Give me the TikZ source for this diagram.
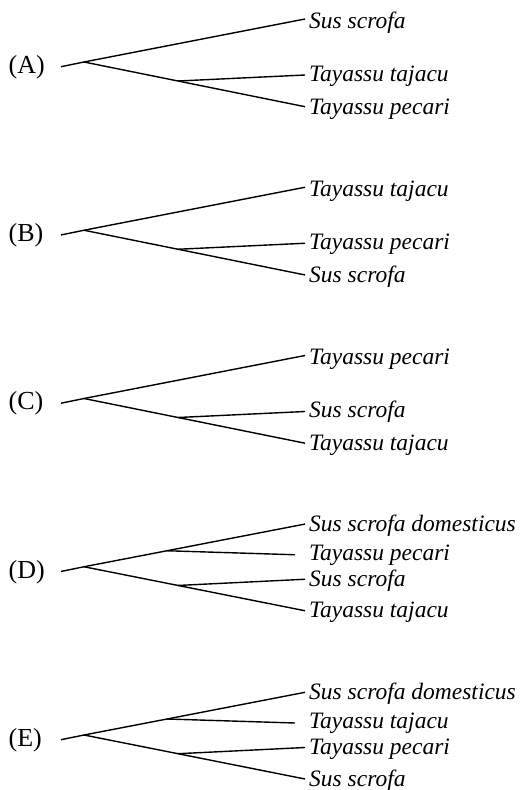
\documentclass[tikz,border=0pt]{standalone}
\usepackage{fontspec}
\setmainfont{Liberation Serif}

\tikzset{
  branch/.style={line width=1.4pt, line join=round},
  taxon/.style={anchor=base west, inner sep=0pt, font=\fontsize{23.5}{28}\selectfont\itshape},
  choice/.style={anchor=base west, inner sep=0pt, font=\fontsize{26}{30}\selectfont},
}

% Three-taxon tree: #1 name prefix, #2 root depth, #3 choice letter, #4-#6 taxa (top to bottom)
\newcommand\treethree[6]{%
  \begin{scope}[shift={(0,#2)}]
    \node[choice] (#1-lab) at (8.5,11.3) {(#3)};
    \coordinate (#1-stem) at (61,4.7);
    \coordinate (#1-root) at (84,0);
    \coordinate (#1-in) at (178,19);
    \coordinate (#1-e1) at (305,-43);
    \coordinate (#1-e2) at (305,13);
    \coordinate (#1-e3) at (305,44.7);
    \node[taxon] (#1-t1) at (309,-33.7) {#4};
    \node[taxon] (#1-t2) at (309,19) {#5};
    \node[taxon] (#1-t3) at (309,52) {#6};
    \draw[branch] (#1-stem) -- (#1-root) -- (#1-e1);
    \draw[branch] (#1-root) -- (#1-in) -- (#1-e3);
    \draw[branch] (#1-in) -- (#1-e2);
  \end{scope}}

% Four-taxon tree: #1 name prefix, #2 root depth, #3 choice letter, #4-#7 taxa (top to bottom)
\newcommand\treefour[7]{%
  \begin{scope}[shift={(0,#2)}]
    \node[choice] (#1-lab) at (8.5,11.3) {(#3)};
    \coordinate (#1-stem) at (61,4.7);
    \coordinate (#1-root) at (84,0);
    \coordinate (#1-up) at (167,-16);
    \coordinate (#1-lo) at (178,18.7);
    \coordinate (#1-e1) at (305,-42.7);
    \coordinate (#1-e2) at (295,-12);
    \coordinate (#1-e3) at (305,12.5);
    \coordinate (#1-e4) at (305,44);
    \node[taxon] (#1-t1) at (309,-35.7) {#4};
    \node[taxon] (#1-t2) at (309,-6.7) {#5};
    \node[taxon] (#1-t3) at (309,19.3) {#6};
    \node[taxon] (#1-t4) at (309,51) {#7};
    \draw[branch] (#1-stem) -- (#1-root) -- (#1-up) -- (#1-e1);
    \draw[branch] (#1-up) -- (#1-e2);
    \draw[branch] (#1-root) -- (#1-lo) -- (#1-e4);
    \draw[branch] (#1-lo) -- (#1-e3);
  \end{scope}}

\begin{document}
\begin{tikzpicture}[x=1pt, y=-1pt]
  \useasboundingbox (0,0) rectangle (522,790);
  \treethree{a}{62}{A}{Sus scrofa}{Tayassu tajacu}{Tayassu pecari}
  \treethree{b}{230.25}{B}{Tayassu tajacu}{Tayassu pecari}{Sus scrofa}
  \treethree{c}{398.5}{C}{Tayassu pecari}{Sus scrofa}{Tayassu tajacu}
  \treefour{d}{566.75}{D}{Sus scrofa domesticus}{Tayassu pecari}{Sus scrofa}{Tayassu tajacu}
  \treefour{e}{735}{E}{Sus scrofa domesticus}{Tayassu tajacu}{Tayassu pecari}{Sus scrofa}
\end{tikzpicture}
\end{document}
